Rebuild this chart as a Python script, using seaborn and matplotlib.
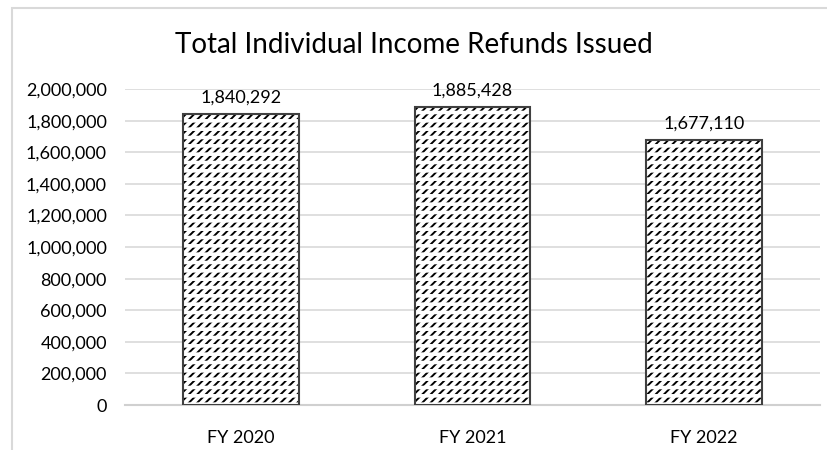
import matplotlib
matplotlib.use("Agg")
import matplotlib.pyplot as plt
import seaborn as sns
import pandas as pd
from matplotlib.patches import Rectangle

categories = ["FY 2020", "FY 2021", "FY 2022"]
refunds = [1840292, 1885428, 1677110]
title = "Total Individual Income Refunds Issued"

sns.set_theme(style="white")
plt.rcParams['font.family'] = ['Lato', 'DejaVu Sans']

df = pd.DataFrame({"year": categories, "refunds": refunds})

fig = plt.figure(figsize=(8.27, 4.5), dpi=100)
fig.patch.set_facecolor("white")
ax = fig.add_axes([125/827, 0.1, (820-125)/827, 0.702])

# layer 1: diagonal hatch
with plt.rc_context({'hatch.linewidth': 1.4}):
    sns.barplot(data=df, x="year", y="refunds", ax=ax, color="white", width=0.5,
                edgecolor="#000000", linewidth=0, hatch="////", zorder=3)
# layer 2: white horizontal stripes to make the diagonals dashed
with plt.rc_context({'hatch.linewidth': 2.6}):
    sns.barplot(data=df, x="year", y="refunds", ax=ax, color="white", width=0.5,
                edgecolor="#ffffff", linewidth=0, hatch="--", zorder=4, fill=False)
# layer 3: outline
sns.barplot(data=df, x="year", y="refunds", ax=ax, color="white", width=0.5,
            edgecolor="#404040", linewidth=1.5, zorder=5, fill=False)

ax.set_ylim(0, 2000000)
ax.set_yticks(range(0, 2000001, 200000))
ax.yaxis.set_major_formatter(matplotlib.ticker.FuncFormatter(lambda v, p: f"{int(v):,}"))
ax.grid(axis="y", color="#d9d9d9", linewidth=1.2, zorder=0)
ax.set_axisbelow(True)
for s in ["top", "right", "left"]:
    ax.spines[s].set_visible(False)
ax.spines["bottom"].set_color("#d0d0d0")
ax.spines["bottom"].set_linewidth(1.5)
ax.tick_params(axis="both", length=0, labelsize=13, colors="#000000")
ax.tick_params(axis="y", pad=13)
ax.tick_params(axis="x", pad=18)
ax.set_xlabel("")
ax.set_ylabel("")

for i, v in enumerate(refunds):
    ax.annotate(f"{v:,}", (i, v), xytext=(0, 6), textcoords="offset points",
                ha="center", va="bottom", fontsize=13, color="#000000", zorder=6)

fig.text(0.5 * (175 + 653) / 827, 1 - 45/450, title, ha="center", va="center",
         fontsize=20, color="#000000")

fig.patches.append(Rectangle((11.5/827, -0.1), 1.2, 1 - 7.5/450 + 0.1,
                             transform=fig.transFigure, fill=False,
                             edgecolor="#d9d9d9", linewidth=1.5))

fig.savefig("out.png", dpi=100)
